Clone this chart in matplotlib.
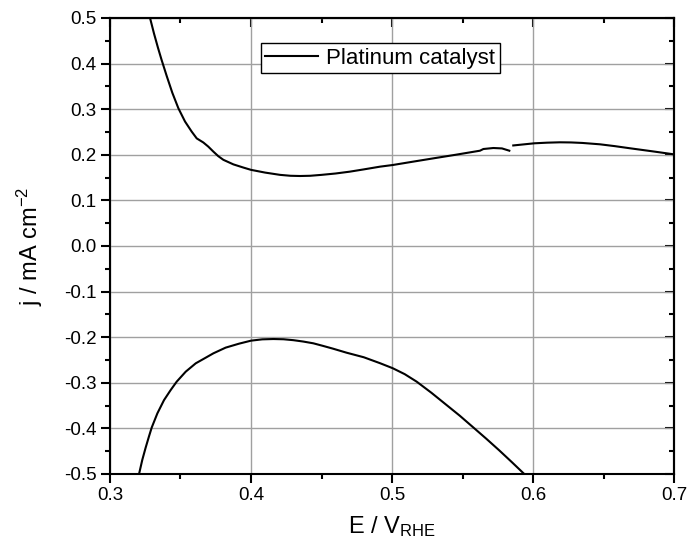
import matplotlib
matplotlib.use("Agg")
import matplotlib.pyplot as plt
from matplotlib.ticker import AutoMinorLocator

plt.rcParams['font.family'] = ['Liberation Sans', 'DejaVu Sans']
plt.rcParams['mathtext.fontset'] = 'custom'
plt.rcParams['mathtext.rm'] = 'Liberation Sans'
plt.rcParams['mathtext.it'] = 'Liberation Sans:italic'

# Upper branch, first segment (E in V, j in mA cm^-2)
e_up1 = [0.3284, 0.3312, 0.3340, 0.3366, 0.3402, 0.3442, 0.3485, 0.3532, 0.3579,
         0.3615, 0.3662, 0.3697, 0.3733, 0.3768, 0.3804, 0.3875, 0.3946, 0.4000,
         0.4100, 0.4206, 0.4280, 0.4348, 0.4420, 0.4500, 0.4600, 0.4700, 0.4800,
         0.4915, 0.5005, 0.5150, 0.5293, 0.5450, 0.5624, 0.5648, 0.5719, 0.5780, 0.5832]
j_up1 = [0.500, 0.466, 0.435, 0.408, 0.373, 0.336, 0.302, 0.273, 0.251,
         0.236, 0.227, 0.218, 0.207, 0.197, 0.189, 0.179, 0.172, 0.167,
         0.161, 0.156, 0.154, 0.1535, 0.154, 0.156, 0.159, 0.163, 0.168,
         0.174, 0.1776, 0.185, 0.1922, 0.200, 0.209, 0.2127, 0.2149, 0.2140, 0.209]

# Upper branch, second segment
e_up2 = [0.5860, 0.6009, 0.6100, 0.6191, 0.6270, 0.6350, 0.6475, 0.6580, 0.6688,
         0.6850, 0.7000]
j_up2 = [0.2205, 0.2252, 0.2266, 0.2274, 0.2271, 0.2260, 0.2230, 0.2190, 0.2143,
         0.2075, 0.2010]

# Lower branch
e_low = [0.3206, 0.3229, 0.3253, 0.3277, 0.3296, 0.3336, 0.3383, 0.3430, 0.3473,
         0.3537, 0.3608, 0.3679, 0.3733, 0.3820, 0.3915, 0.4000, 0.4080, 0.4158,
         0.4230, 0.4300, 0.4370, 0.4442, 0.4510, 0.4580, 0.4678, 0.4800, 0.4915,
         0.5005, 0.5090, 0.5175, 0.5280, 0.5380, 0.5480, 0.5577, 0.5670, 0.5760,
         0.5850, 0.5938]
j_low = [-0.500, -0.469, -0.442, -0.417, -0.398, -0.367, -0.338, -0.316, -0.2975,
         -0.2756, -0.2573, -0.2449, -0.2354, -0.2229, -0.2142, -0.2076, -0.2047, -0.2040,
         -0.2045, -0.2065, -0.2095, -0.2134, -0.2190, -0.2250, -0.2340, -0.2440, -0.2570,
         -0.2680, -0.2810, -0.2975, -0.3220, -0.3470, -0.3720, -0.3980, -0.4230, -0.4480,
         -0.4740, -0.5000]

series_label = "Platinum catalyst"
x_ticks = [0.3, 0.4, 0.5, 0.6, 0.7]
y_ticks = [-0.5, -0.4, -0.3, -0.2, -0.1, 0.0, 0.1, 0.2, 0.3, 0.4, 0.5]

fig = plt.figure(figsize=(6.9, 5.44), dpi=100)
ax = fig.add_axes([110/690, 1-474/544, 564/690, 456/544])

lw = 1.5
ax.plot(e_up1, j_up1, color='black', lw=lw, label=series_label)
ax.plot(e_up2, j_up2, color='black', lw=lw)
ax.plot(e_low, j_low, color='black', lw=lw)

ax.set_xlim(0.3, 0.7)
ax.set_ylim(-0.5, 0.5)
ax.set_xticks(x_ticks)
ax.set_yticks(y_ticks)
ax.set_xticklabels([f"{v:.1f}" for v in x_ticks])
ax.set_yticklabels([f"{v:.1f}" for v in y_ticks])
ax.xaxis.set_minor_locator(AutoMinorLocator(2))
ax.yaxis.set_minor_locator(AutoMinorLocator(2))

ax.grid(True, which='major', color='#a0a0a0', lw=1.0)
ax.set_axisbelow(True)

for s in ax.spines.values():
    s.set_linewidth(1.5)

ax.tick_params(which='major', direction='out', length=6.5, width=1.5, labelsize=13.5,
               top=False, right=False, pad=3)
ax.tick_params(which='minor', direction='out', length=3.5, width=1.5, top=False, right=False)

# mirrored ticks on top and right pointing inward
topax = ax.secondary_xaxis('top')
topax.set_xticks(x_ticks)
topax.xaxis.set_minor_locator(AutoMinorLocator(2))
topax.tick_params(which='major', direction='in', length=6.5, width=1.5, labeltop=False)
topax.tick_params(which='minor', direction='in', length=3.5, width=1.5)
topax.spines['top'].set_linewidth(1.5)

rax = ax.secondary_yaxis('right')
rax.set_yticks(y_ticks)
rax.yaxis.set_minor_locator(AutoMinorLocator(2))
rax.tick_params(which='major', direction='in', length=6.5, width=1.5, labelright=False)
rax.tick_params(which='minor', direction='in', length=3.5, width=1.5)
rax.spines['right'].set_linewidth(1.5)

ax.set_xlabel(r"E / V$_{\mathrm{RHE}}$", fontsize=17, labelpad=7)
ax.set_ylabel(r"j / mA cm$^{-2}$", fontsize=17, labelpad=14)

leg = ax.legend(loc='upper center', bbox_to_anchor=(0.479, 0.945), borderaxespad=0,
                fancybox=False, framealpha=1, edgecolor='black', fontsize=16,
                handlelength=2.4, handletextpad=0.35, borderpad=0.2)
leg.get_frame().set_linewidth(1.0)

fig.savefig("out.png", dpi=100)
